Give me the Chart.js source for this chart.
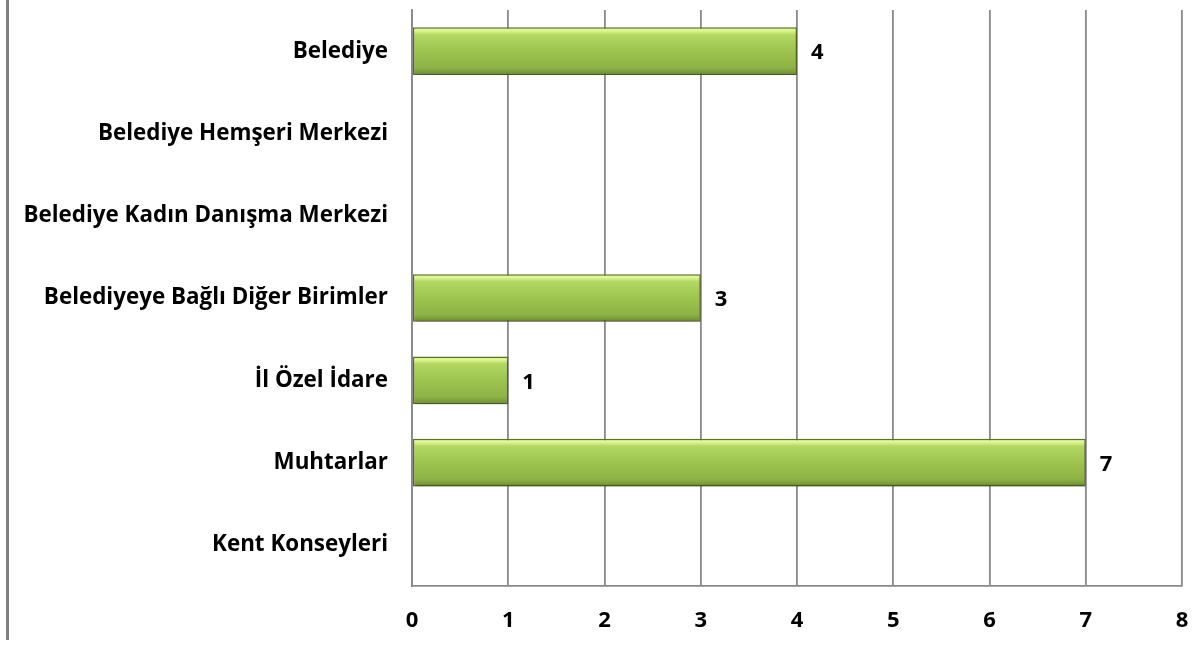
<!DOCTYPE html>
<html>
<head>
<meta charset="utf-8">
<script src="https://cdn.jsdelivr.net/npm/chart.js@4/dist/chart.umd.min.js"></script>
<style>
  html, body { margin: 0; padding: 0; background: #ffffff; }
  #wrap { width: 1198px; height: 646px; position: relative; }
</style>
</head>
<body>
<div id="wrap"><canvas id="c" width="1198" height="646"></canvas></div>
<script>
const categories = [
  'Belediye',
  'Belediye Hemşeri Merkezi',
  'Belediye Kadın Danışma Merkezi',
  'Belediyeye Bağlı Diğer Birimler',
  'İl Özel İdare',
  'Muhtarlar',
  'Kent Konseyleri'
];
const values = [4, 0, 0, 3, 1, 7, 0];
const xTicks = [0, 1, 2, 3, 4, 5, 6, 7, 8];

const FONT = '"Open Sans", Lato, sans-serif';
const GRID = '#8a8a8a';

function barGradient(ctx) {
  const chart = ctx.chart;
  const ys = chart.scales && chart.scales.y;
  if (!ys || !chart.chartArea) return '#9bc24e';
  const c = ys.getPixelForValue(ctx.dataIndex);
  const h = 48;
  const g = chart.ctx.createLinearGradient(0, c - h / 2, 0, c + h / 2);
  g.addColorStop(0, '#b9dc6c');
  g.addColorStop(0.06, '#e4fa9c');
  g.addColorStop(0.16, '#b2d862');
  g.addColorStop(0.5, '#9dc44f');
  g.addColorStop(0.85, '#8db246');
  g.addColorStop(0.94, '#7a9a3a');
  g.addColorStop(1, '#5f7c2c');
  return g;
}

const sideBorder = {
  id: 'sideBorder',
  beforeDraw(chart) {
    const c = chart.ctx;
    c.save();
    c.fillStyle = '#808080';
    c.fillRect(6, 0, 3, 640);
    c.restore();
  }
};

const barShadow = {
  id: 'barShadow',
  beforeDatasetDraw(chart) {
    const c = chart.ctx;
    c.save();
    c.shadowColor = 'rgba(0,0,0,0.3)';
    c.shadowBlur = 5;
    c.shadowOffsetX = 1;
    c.shadowOffsetY = 3;
  },
  afterDatasetDraw(chart) {
    chart.ctx.restore();
  }
};

const valueLabels = {
  id: 'valueLabels',
  afterDatasetsDraw(chart) {
    const c = chart.ctx;
    const meta = chart.getDatasetMeta(0);
    c.save();
    c.font = 'bold 22px ' + FONT;
    c.fillStyle = '#000';
    c.textAlign = 'left';
    c.textBaseline = 'middle';
    meta.data.forEach((el, i) => {
      if (values[i] === 0) return;
      c.fillText(String(values[i]), el.x + 14, el.y + 2);
    });
    c.restore();
  }
};

new Chart(document.getElementById('c'), {
  type: 'bar',
  data: {
    labels: categories,
    datasets: [{
      data: values,
      backgroundColor: barGradient,
      borderColor: '#5b7628',
      borderWidth: 1.5,
      borderSkipped: false,
      barPercentage: 0.58,
      categoryPercentage: 1.0
    }]
  },
  options: {
    indexAxis: 'y',
    responsive: false,
    animation: false,
    devicePixelRatio: 1,
    layout: { padding: { top: 10, right: 16, left: 0, bottom: 0 } },
    plugins: { legend: { display: false }, tooltip: { enabled: false } },
    scales: {
      x: {
        min: 0, max: 8,
        afterBuildTicks(scale) { scale.ticks = xTicks.map(v => ({ value: v })); },
        afterFit(scale) { scale.height = 60; scale.paddingLeft = 0; scale.paddingRight = 0; },
        grid: { color: GRID, lineWidth: 1.8, drawTicks: false },
        border: { display: true, color: GRID, width: 1.8 },
        ticks: {
          padding: 22,
          color: '#000',
          font: { family: FONT, size: 22, weight: 'bold' }
        }
      },
      y: {
        afterFit(scale) { scale.width = 412; scale.paddingTop = 0; scale.paddingBottom = 0; },
        grid: { display: false, drawTicks: false },
        border: { display: true, color: GRID, width: 1.8 },
        ticks: {
          padding: 24,
          color: '#000',
          font: { family: FONT, size: 22.4, weight: 'bold' }
        }
      }
    }
  },
  plugins: [sideBorder, barShadow, valueLabels]
});
</script>
</body>
</html>
